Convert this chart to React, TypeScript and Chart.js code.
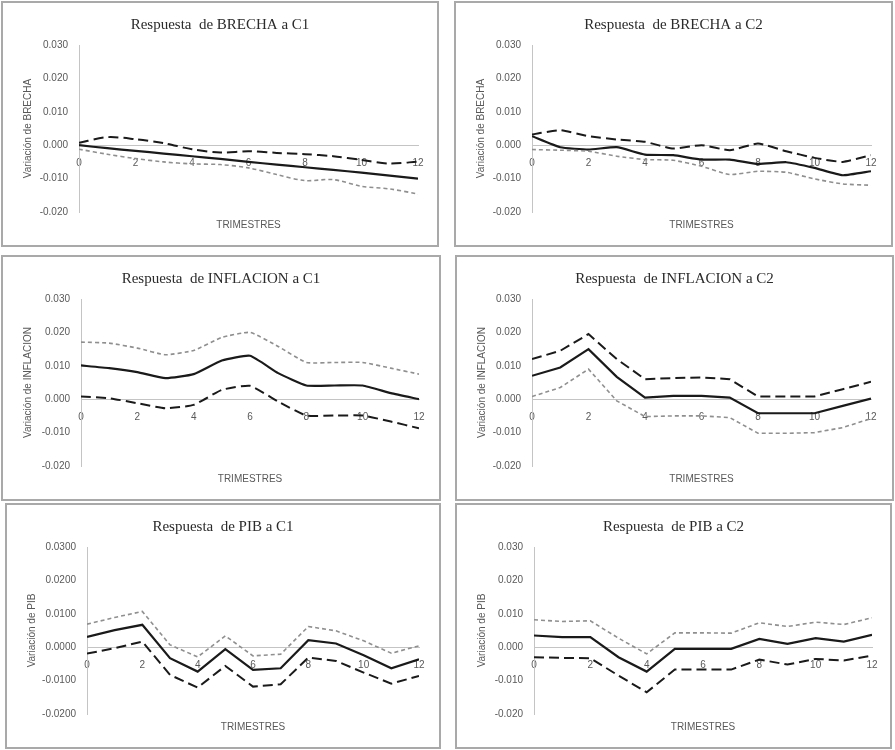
import React, { useEffect, useRef } from "react";
import { Chart, registerables } from "chart.js";

Chart.register(...registerables);

// ---------- data ----------
const QUARTERS = [0, 1, 2, 3, 4, 5, 6, 7, 8, 9, 10, 11, 12];
const X_TICKS = [0, 2, 4, 6, 8, 10, 12];
const Y_TICKS = [-0.02, -0.01, 0, 0.01, 0.02, 0.03];
const X_TITLE = "TRIMESTRES";

const BRECHA_C1_MID = [0, -0.0009, -0.0017, -0.0025, -0.0033, -0.0041, -0.005, -0.0058, -0.0066, -0.0074, -0.0082, -0.0091, -0.01];
const BRECHA_C1_BLACK = [0.0007, 0.0024, 0.0018, 0.0006, -0.0012, -0.0022, -0.0018, -0.0023, -0.0027, -0.0033, -0.0044, -0.0055, -0.0049];
const BRECHA_C1_GRAY = [-0.0012, -0.0027, -0.004, -0.005, -0.0056, -0.0058, -0.0068, -0.0088, -0.0106, -0.0103, -0.0123, -0.0131, -0.0146];

const BRECHA_C2_MID = [0.0027, -0.0006, -0.0013, -0.0006, -0.0028, -0.003, -0.0043, -0.0043, -0.0056, -0.0051, -0.0068, -0.009, -0.0078];
const BRECHA_C2_BLACK = [0.0032, 0.0045, 0.0027, 0.0017, 0.001, -0.001, 0.0, -0.0015, 0.0005, -0.0018, -0.0038, -0.005, -0.003];
const BRECHA_C2_GRAY = [-0.0013, -0.0015, -0.0018, -0.0033, -0.0043, -0.0045, -0.0063, -0.0088, -0.0078, -0.0081, -0.0101, -0.0116, -0.012];

const INFL_C1_MID = [0.0101, 0.0093, 0.0081, 0.0063, 0.0075, 0.0116, 0.013, 0.0078, 0.0041, 0.0041, 0.0041, 0.0018, 0.0];
const INFL_C1_BLACK = [0.0008, 0.0003, -0.0012, -0.0027, -0.0017, 0.0028, 0.004, -0.0007, -0.0049, -0.0049, -0.0049, -0.0067, -0.0087];
const INFL_C1_GRAY = [0.0171, 0.0168, 0.0153, 0.0133, 0.0146, 0.0185, 0.02, 0.0158, 0.011, 0.011, 0.011, 0.0093, 0.0075];

const INFL_C2_MID = [0.007, 0.0095, 0.015, 0.0067, 0.0005, 0.001, 0.001, 0.0005, -0.0042, -0.0042, -0.0042, -0.002, 0.0002];
const INFL_C2_BLACK = [0.012, 0.0145, 0.0195, 0.012, 0.006, 0.0063, 0.0065, 0.006, 0.0008, 0.0008, 0.0008, 0.003, 0.0052];
const INFL_C2_GRAY = [0.0008, 0.0035, 0.009, -0.0005, -0.0052, -0.005, -0.005, -0.0055, -0.0102, -0.0102, -0.01, -0.0085, -0.0058];

const PIB_C1_MID = [0.0031, 0.0051, 0.0067, -0.0033, -0.0073, -0.0006, -0.0068, -0.0063, 0.0021, 0.0011, -0.0024, -0.0063, -0.0036];
const PIB_C1_BLACK = [-0.0019, -0.0003, 0.0017, -0.0083, -0.0121, -0.0056, -0.0118, -0.0111, -0.0031, -0.0041, -0.0076, -0.0109, -0.0086];
const PIB_C1_GRAY = [0.0069, 0.0089, 0.0107, 0.0007, -0.0029, 0.0034, -0.0026, -0.0021, 0.0062, 0.0049, 0.0019, -0.0018, 0.0004];

const PIB_C2_MID = [0.0035, 0.003, 0.003, -0.003, -0.0073, -0.0005, -0.0005, -0.0005, 0.0025, 0.001, 0.0027, 0.0017, 0.0037];
const PIB_C2_BLACK = [-0.003, -0.0032, -0.0033, -0.0085, -0.0135, -0.0067, -0.0067, -0.0067, -0.0037, -0.0052, -0.0035, -0.004, -0.0025];
const PIB_C2_GRAY = [0.0082, 0.0077, 0.0079, 0.0027, -0.002, 0.0043, 0.0043, 0.0042, 0.0073, 0.0062, 0.0075, 0.0068, 0.0088];

// ---------- panel configuration ----------
type PanelCfg = {
  title: string;
  yTitle: string;
  mid: number[];
  black: number[];
  gray: number[];
  decimals: number;
  left: number;
  top: number;
  width: number;
  height: number;
  yWidth: number;
  rightPad: number;
  tension: number;
};

const PANELS: PanelCfg[] = [
  { title: "Respuesta  de BRECHA a C1", yTitle: "Variación de BRECHA", mid: BRECHA_C1_MID, black: BRECHA_C1_BLACK, gray: BRECHA_C1_GRAY, decimals: 3, left: 1, top: 1, width: 438, height: 246, yWidth: 76, rightPad: 19, tension: 0.3 },
  { title: "Respuesta  de BRECHA a C2", yTitle: "Variación de BRECHA", mid: BRECHA_C2_MID, black: BRECHA_C2_BLACK, gray: BRECHA_C2_GRAY, decimals: 3, left: 454, top: 1, width: 439, height: 246, yWidth: 76, rightPad: 20, tension: 0.15 },
  { title: "Respuesta  de INFLACION a C1", yTitle: "Variación de INFLACION", mid: INFL_C1_MID, black: INFL_C1_BLACK, gray: INFL_C1_GRAY, decimals: 3, left: 1, top: 255, width: 440, height: 246, yWidth: 78, rightPad: 20, tension: 0.15 },
  { title: "Respuesta  de INFLACION a C2", yTitle: "Variación de INFLACION", mid: INFL_C2_MID, black: INFL_C2_BLACK, gray: INFL_C2_GRAY, decimals: 3, left: 455, top: 255, width: 439, height: 246, yWidth: 75, rightPad: 21, tension: 0 },
  { title: "Respuesta  de PIB a C1", yTitle: "Variación de PIB", mid: PIB_C1_MID, black: PIB_C1_BLACK, gray: PIB_C1_GRAY, decimals: 4, left: 5, top: 503, width: 436, height: 246, yWidth: 80, rightPad: 20, tension: 0 },
  { title: "Respuesta  de PIB a C2", yTitle: "Variación de PIB", mid: PIB_C2_MID, black: PIB_C2_BLACK, gray: PIB_C2_GRAY, decimals: 3, left: 455, top: 503, width: 437, height: 246, yWidth: 77, rightPad: 18, tension: 0 },
];

const SANS = "'Liberation Sans', Arial, sans-serif";
const SERIF = "'Liberation Serif', 'Times New Roman', serif";
const TEXT_GRAY = "#595959";
const AXIS_GRAY = "#c4c4c4";
const BORDER = 2;

function toPoints(vals: number[]) {
  return vals.map((v, i) => ({ x: QUARTERS[i], y: v }));
}

function Panel({ cfg }: { cfg: PanelCfg }) {
  const ref = useRef<HTMLCanvasElement | null>(null);
  const cw = cfg.width - BORDER * 2;
  const ch = cfg.height - BORDER * 2;

  useEffect(() => {
    if (!ref.current) return;
    const chart = new Chart(ref.current, {
      type: "line",
      data: {
        datasets: [
          {
            data: toPoints(cfg.gray),
            borderColor: "#8f8f8f",
            borderWidth: 1.6,
            borderDash: [4, 3],
            pointRadius: 0,
            tension: cfg.tension,
            xAxisID: "x",
            yAxisID: "y",
          },
          {
            data: toPoints(cfg.black),
            borderColor: "#1a1a1a",
            borderWidth: 2,
            borderDash: [10, 5],
            pointRadius: 0,
            tension: cfg.tension,
            xAxisID: "x",
            yAxisID: "y",
          },
          {
            data: toPoints(cfg.mid),
            borderColor: "#1a1a1a",
            borderWidth: 2.2,
            pointRadius: 0,
            tension: cfg.tension,
            xAxisID: "x",
            yAxisID: "y",
          },
        ],
      },
      options: {
        responsive: false,
        animation: false,
        events: [],
        layout: { padding: 0 },
        plugins: {
          legend: { display: false },
          tooltip: { enabled: false },
          title: {
            display: true,
            text: cfg.title,
            color: "#2b2b2b",
            font: { family: SERIF, size: 15, weight: "normal", lineHeight: 1.2 },
            padding: { top: 13, bottom: 11 },
          },
        },
        scales: {
          x: {
            type: "linear",
            position: { y: 0 } as any,
            min: 0,
            max: 12,
            grid: { display: false, drawTicks: false },
            border: { display: true, color: AXIS_GRAY, width: 1 },
            ticks: {
              color: TEXT_GRAY,
              font: { family: SANS, size: 10 },
              padding: 12,
              maxRotation: 0,
              autoSkip: false,
            },
            afterBuildTicks: (axis: any) => {
              axis.ticks = X_TICKS.map((v) => ({ value: v }));
            },
            afterFit: (axis: any) => {
              axis.paddingLeft = 0;
              axis.paddingRight = cfg.rightPad;
            },
          },
          xb: {
            type: "linear",
            axis: "x",
            position: "bottom",
            min: 0,
            max: 12,
            grid: { display: false, drawTicks: false },
            border: { display: false },
            ticks: { display: false },
            title: {
              display: true,
              text: X_TITLE,
              color: TEXT_GRAY,
              font: { family: SANS, size: 10 },
              padding: { top: 0, bottom: 14 },
            },
            afterFit: (axis: any) => {
              axis.height = 33;
              axis.paddingLeft = 0;
              axis.paddingRight = cfg.rightPad;
            },
          },
          y: {
            type: "linear",
            position: "left",
            min: -0.02,
            max: 0.03,
            grid: { display: false, drawTicks: false },
            border: { display: true, color: AXIS_GRAY, width: 1 },
            ticks: {
              color: TEXT_GRAY,
              font: { family: SANS, size: 10 },
              padding: 11,
              callback: (v: any) => Number(v).toFixed(cfg.decimals),
            },
            afterBuildTicks: (axis: any) => {
              axis.ticks = Y_TICKS.map((v) => ({ value: v }));
            },
            title: {
              display: true,
              text: cfg.yTitle,
              color: TEXT_GRAY,
              font: { family: SANS, size: 10 },
              padding: { top: 19, bottom: 0 },
            },
            afterFit: (axis: any) => {
              axis.width = cfg.yWidth;
            },
          },
        },
      } as any,
    });
    return () => chart.destroy();
  }, [cfg]);

  return (
    <div
      style={{
        position: "absolute",
        left: cfg.left,
        top: cfg.top,
        width: cfg.width,
        height: cfg.height,
        boxSizing: "border-box",
        border: `${BORDER}px solid #a9a9a9`,
        background: "#fff",
      }}
    >
      <canvas ref={ref} width={cw} height={ch} style={{ display: "block", width: cw, height: ch }} />
    </div>
  );
}

export default function App() {
  return (
    <div style={{ position: "absolute", left: 0, top: 0, width: 895, height: 750, background: "#fff", overflow: "hidden" }}>
      {PANELS.map((p, i) => (
        <Panel key={i} cfg={p} />
      ))}
    </div>
  );
}
